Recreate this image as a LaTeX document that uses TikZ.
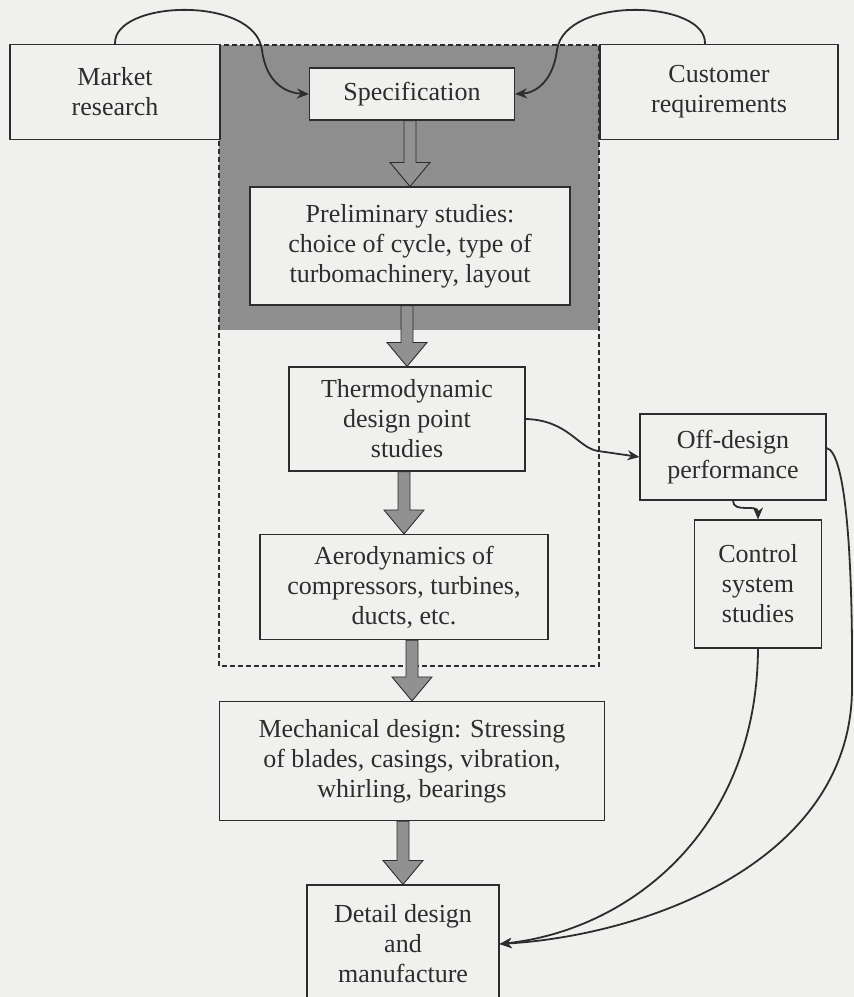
\documentclass[tikz,border=0pt]{standalone}
\usepackage{fontspec}
\setmainfont{Liberation Serif}
\usetikzlibrary{arrows.meta,calc}

\definecolor{pagegray}{RGB}{240,240,238}
\definecolor{zonegray}{RGB}{142,142,142}
\definecolor{arrowgray}{RGB}{145,145,145}
\definecolor{inkgray}{RGB}{45,45,45}

\tikzset{
  stage/.style={draw=inkgray, line width=1.1pt, fill=pagegray, text=inkgray,
    align=center, inner sep=0pt, font=\fontsize{26}{30}\selectfont},
  fatarrow/.style={draw=inkgray, line width=0.9pt, fill=arrowgray},
  feed/.style={draw=inkgray, line width=1.8pt, -{Stealth[length=12pt,width=10pt]}},
}

% broad grey arrow from the bottom of one box to the top of the next
\newcommand{\fatarrow}[2]{%
  \draw[fatarrow] let \p1=(#1.south), \p2=(#2.north) in
    (\x2-6pt,\y1) -- (\x2-6pt,\y2+24pt) -- (\x2-20pt,\y2+24pt) -- (\x2,\y2)
    -- (\x2+20pt,\y2+24pt) -- (\x2+6pt,\y2+24pt) -- (\x2+6pt,\y1) -- cycle;
}

\begin{document}
\begin{tikzpicture}[x=1pt,y=-1pt]
\useasboundingbox (0,0) rectangle (854,997);
\clip (0,0) rectangle (854,997);
\fill[pagegray] (0,0) rectangle (854,997);

% shaded zone and dashed frame
\fill[zonegray] (219,45) rectangle (599,330);
\draw[inkgray, line width=1.1pt, dash pattern=on 5pt off 3pt] (219,45) rectangle (599,666);

% boxes
\node[stage, minimum width=210, minimum height=95] (market) at (115,92) {Market\\research};
\node[stage, minimum width=238, minimum height=95] (customer) at (719,92) {Customer\\requirements};
\node[stage, minimum width=205, minimum height=52] (spec) at (412,94) {Specification};
\node[stage, minimum width=320, minimum height=118] (prelim) at (410,246) {Preliminary studies:\\choice of cycle, type of\\turbomachinery, layout};
\node[stage, minimum width=236, minimum height=104] (thermo) at (407,419) {Thermodynamic\\design point\\studies};
\node[stage, minimum width=288, minimum height=105] (aero) at (404,587) {Aerodynamics of\\compressors, turbines,\\ducts, etc.};
\node[stage, minimum width=385, minimum height=119] (mech) at (412,761) {Mechanical design: Stressing\\of blades, casings, vibration,\\whirling, bearings};
\node[stage, minimum width=192, minimum height=118] (detail) at (403,944) {Detail design\\and\\manufacture};
\node[stage, minimum width=186, minimum height=86] (offd) at (733,457) {Off-design\\performance};
\node[stage, minimum width=127, minimum height=128] (control) at (758,584) {Control\\system\\studies};

% main sequence
\fatarrow{spec}{prelim}
\fatarrow{prelim}{thermo}
\fatarrow{thermo}{aero}
\fatarrow{aero}{mech}
\fatarrow{mech}{detail}

% feeds
\draw[feed] (market.north) .. controls (113,0) and (255,-5) .. (262,50)
  .. controls (266,82) and (285,93) .. (spec.west);
\draw[feed] ([xshift=-14pt]customer.north) .. controls (707,0) and (565,-5) .. (557,50)
  .. controls (553,82) and (535,93) .. (spec.east);
\draw[feed] (thermo.east) .. controls (568,420) and (578,448) .. (598,451)
  .. controls (612,453) .. (offd.west);
\draw[feed] (offd.south) .. controls (733,514) and (758,503) .. (control.north);
\draw[feed] (control.south) .. controls (757,830) and (630,930) .. (detail.east);
\draw[feed] ([yshift=9pt]offd.east) .. controls (846,452) and (853,560) .. (852,690)
  .. controls (850,860) and (650,935) .. (detail.east);
\end{tikzpicture}
\end{document}
